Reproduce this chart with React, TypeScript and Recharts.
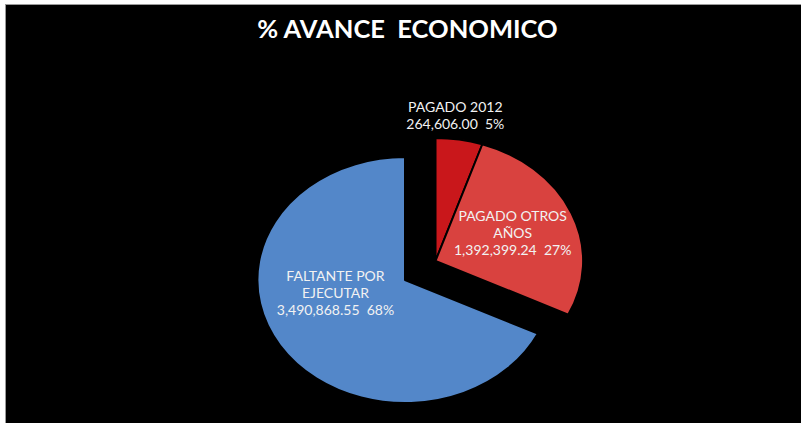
import { PieChart, Pie, Cell } from 'recharts';

const categories = ['PAGADO 2012', 'PAGADO OTROS AÑOS', 'FALTANTE POR EJECUTAR'];
const labelLines = [['PAGADO 2012'], ['PAGADO OTROS', 'AÑOS'], ['FALTANTE POR', 'EJECUTAR']];
const amounts = [264606.0, 1392399.24, 3490868.55];
const colors = ['#C9171B', '#D9423F', '#5387C9'];
const exploded = [true, true, false];

const data = categories.map((name, i) => ({ name, value: amounts[i], explode: exploded[i] }));

const RADIAN = Math.PI / 180;
const ELLIPSE = 1.2; // the 3d pie looks wider than tall
const EXPLODE_DIST = 36;
const LINE_H = 17;
const labelRadius = [1.13, 0.56, 0.5];
const labelNudge = [[-7, -9], [1, -2], [-7, -21]];

const total = amounts.reduce((a, b) => a + b, 0);
const explodedShare = amounts.reduce((s, v, i) => (exploded[i] ? s + v : s), 0) / total;
const groupMid = 90 - (360 * explodedShare) / 2;

function offsetFor(explode: boolean) {
  if (!explode) return [0, 0];
  return [EXPLODE_DIST * Math.cos(groupMid * RADIAN), -EXPLODE_DIST * Math.sin(groupMid * RADIAN)];
}

function pt(cx: number, cy: number, rx: number, ry: number, angle: number) {
  return [cx + rx * Math.cos(-angle * RADIAN), cy + ry * Math.sin(-angle * RADIAN)];
}

function EllipseSector(props: any) {
  const { cx, cy, outerRadius, startAngle, endAngle, fill, payload } = props;
  const [ox, oy] = offsetFor(payload?.explode ?? props.explode);
  const x0 = cx + ox;
  const y0 = cy + oy;
  const rx = outerRadius * ELLIPSE;
  const ry = outerRadius;
  const [sx, sy] = pt(x0, y0, rx, ry, startAngle);
  const [ex, ey] = pt(x0, y0, rx, ry, endAngle);
  const large = Math.abs(startAngle - endAngle) > 180 ? 1 : 0;
  const sweep = startAngle > endAngle ? 1 : 0;
  const d = `M${x0},${y0} L${sx},${sy} A${rx},${ry} 0 ${large} ${sweep} ${ex},${ey} Z`;
  return <path d={d} fill={fill} stroke="#000" strokeWidth={2} strokeLinejoin="round" />;
}

const fmt = (v: number) =>
  v.toLocaleString('en-US', { minimumFractionDigits: 2, maximumFractionDigits: 2 });

function renderLabel(props: any) {
  const { cx, cy, midAngle, outerRadius, index, value, percent } = props;
  const [ox, oy] = offsetFor(exploded[index]);
  const f = labelRadius[index];
  const [x, y] = pt(cx + ox, cy + oy, outerRadius * ELLIPSE * f, outerRadius * f, midAngle);
  const lines = [...labelLines[index], `${fmt(value)}  ${Math.round(percent * 100)}%`];
  const lx = x + labelNudge[index][0];
  const ly = y + labelNudge[index][1] - ((lines.length - 1) * LINE_H) / 2;
  return (
    <text
      x={lx}
      y={ly}
      fill="#F2F2F2"
      fontSize={14}
      fontFamily="Lato, 'Open Sans', sans-serif"
      textAnchor="middle"
      dominantBaseline="central"
      style={{ whiteSpace: 'pre' }}
    >
      {lines.map((l, i) => (
        <tspan key={i} x={lx} dy={i === 0 ? 0 : LINE_H}>
          {l}
        </tspan>
      ))}
    </text>
  );
}

export default function App() {
  return (
    <div style={{ position: 'absolute', left: 0, top: 0, width: 801, height: 423, background: '#fff' }}>
      <div
        style={{
          position: 'absolute',
          left: 5,
          top: 4,
          width: 796,
          height: 419,
          background: '#000',
          borderLeft: '1px solid #9a9a9a',
          borderTop: '1px solid #9a9a9a',
          boxSizing: 'border-box',
        }}
      />
      <div
        style={{
          position: 'absolute',
          left: 7,
          top: 13,
          width: 801,
          textAlign: 'center',
          color: '#fff',
          fontFamily: 'Lato, sans-serif',
          fontWeight: 700,
          fontSize: 25.5,
          whiteSpace: 'pre',
        }}
      >
        {'% AVANCE  ECONOMICO'}
      </div>
      <div style={{ position: 'absolute', left: 0, top: 0 }}>
        <PieChart width={801} height={423}>
          <Pie
            data={data}
            dataKey="value"
            nameKey="name"
            cx={400}
            cy={275}
            outerRadius={123}
            startAngle={90}
            endAngle={-270}
            stroke="none"
            shape={EllipseSector}
            label={renderLabel}
            labelLine={false}
            isAnimationActive={false}
          >
            {data.map((d, i) => (
              <Cell key={d.name} fill={colors[i]} />
            ))}
          </Pie>
        </PieChart>
      </div>
    </div>
  );
}
